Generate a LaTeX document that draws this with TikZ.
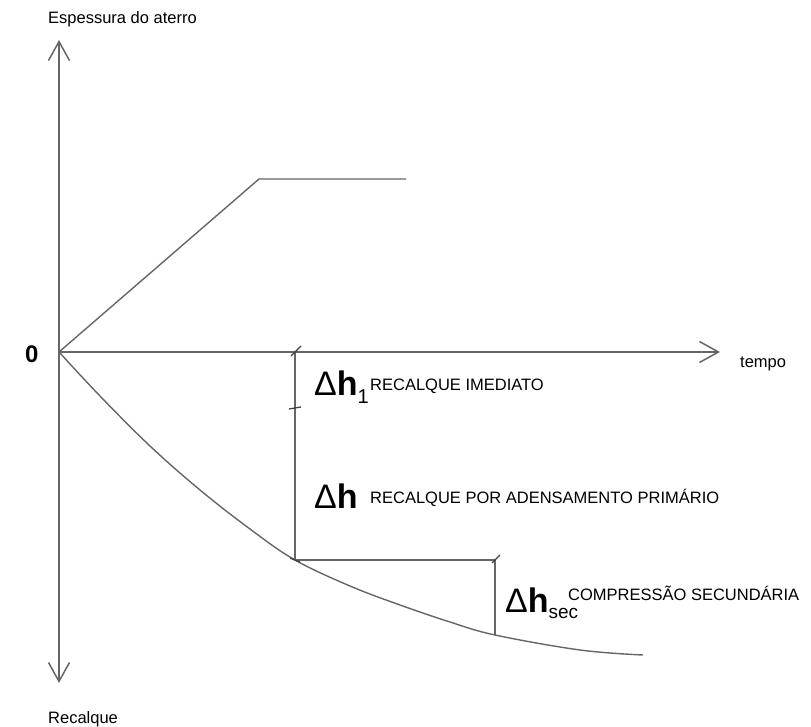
\documentclass[tikz,border=0pt]{standalone}
\usepackage{fontspec}
\setmainfont{Liberation Sans}
\usetikzlibrary{arrows.meta}
\tikzset{
  axisline/.style={draw=black!60, line width=1.5pt, -{Straight Barb[length=19pt,width=21pt]}},
  gline/.style={draw=black!60, line width=1.4pt},
  tickmark/.style={draw=black!75, line width=1.3pt},
  lbl/.style={inner sep=0pt, anchor=base west, font=\fontsize{16.5}{18}\selectfont},
  dlbl/.style={inner sep=0pt, anchor=base west},
}
\newcommand{\bigD}{{\fontsize{34}{34}\selectfont Δ\textbf{h}}}
\begin{document}
\begin{tikzpicture}[x=1pt,y=-1pt]
\useasboundingbox (0,0) rectangle (811,727);
% key points
\coordinate (O) at (59,352);
\coordinate (Ytop) at (59,40);
\coordinate (Ybot) at (59,683);
\coordinate (Xend) at (720,352);
\coordinate (A) at (259,179);
\coordinate (B) at (406,179);
\coordinate (P1) at (295,352);
\coordinate (P2) at (295,408);
\coordinate (P3) at (295,560);
\coordinate (P4) at (495,560);
\coordinate (P5) at (495,635);
\coordinate (Cend) at (643,655);
% axes
\draw[axisline] (O) -- (Ytop);
\draw[axisline] (O) -- (Ybot);
\draw[axisline] (O) -- (Xend);
% fill thickness
\draw[gline] (O) -- (A) -- (B);
% settlement curve
\draw[gline] plot[smooth, tension=0.6] coordinates {(59,352) (100,396) (150,446) (200,490) (250,529) (295,560) (350,586) (400,605) (450,622) (495,635) (580,650) (643,655)};
% dimension lines
\draw[gline] (P1) -- (P3) -- (P4) -- (P5);
% ticks
\draw[tickmark] ([shift={(-4,4)}]P1) -- ([shift={(6,-6)}]P1);
\draw[tickmark] ([shift={(-6,1)}]P2) -- ([shift={(6,-1)}]P2);
\draw[tickmark] ([shift={(-5,-2)}]P3) -- ([shift={(5,2)}]P3);
\draw[tickmark] ([shift={(-3,3)}]P4) -- ([shift={(5,-5)}]P4);
% labels
\node[lbl] (ylab) at (48,24) {Espessura do aterro};
\node[lbl] (rlab) at (48,723) {Recalque};
\node[lbl] (tlab) at (740,367) {tempo};
\node[dlbl, font=\fontsize{24}{24}\selectfont\bfseries] (zero) at (25,362) {0};
\node[dlbl] (dh1) at (314,395) {\bigD\raisebox{-8pt}{\fontsize{20}{20}\selectfont 1}};
\node[lbl] (l1) at (370,390) {RECALQUE IMEDIATO};
\node[dlbl] (dh) at (314,508) {\bigD};
\node[lbl] (l2) at (370,503) {RECALQUE POR ADENSAMENTO PRIMÁRIO};
\node[dlbl] (dhs) at (505,612) {\bigD\raisebox{-6pt}{\fontsize{19}{19}\selectfont sec}};
\node[lbl] (l3) at (568,600) {COMPRESSÃO SECUNDÁRIA};
\end{tikzpicture}
\end{document}
